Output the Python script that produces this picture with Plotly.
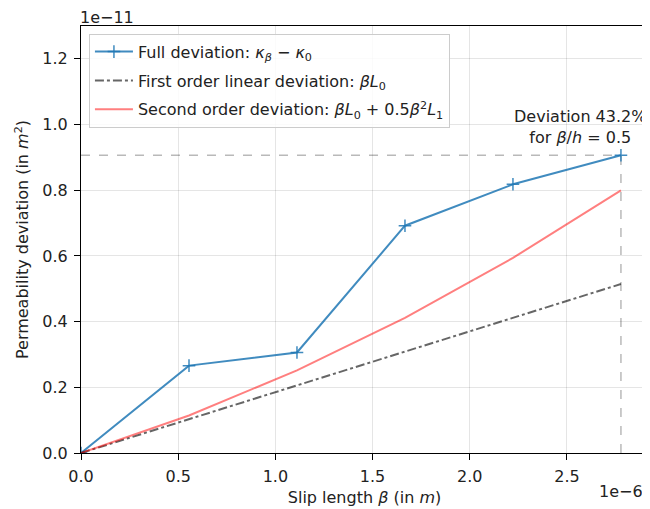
import plotly.graph_objects as go

# Data (real units)
beta = [0.0, 0.5556e-6, 1.1111e-6, 1.6667e-6, 2.2222e-6, 2.7778e-6]
full_dev = [0.0, 0.266e-11, 0.306e-11, 0.692e-11, 0.818e-11, 0.9065e-11]
lin_dev = [0.0, 0.1029e-11, 0.2058e-11, 0.3087e-11, 0.4116e-11, 0.5145e-11]
second_dev = [0.0, 0.1143e-11, 0.2514e-11, 0.4113e-11, 0.5940e-11, 0.7995e-11]

x_tickvals = [0.0, 0.5e-6, 1.0e-6, 1.5e-6, 2.0e-6, 2.5e-6]
x_ticktext = ["0.0", "0.5", "1.0", "1.5", "2.0", "2.5"]
y_tickvals = [0.0, 0.2e-11, 0.4e-11, 0.6e-11, 0.8e-11, 1.0e-11, 1.2e-11]
y_ticktext = ["0.0", "0.2", "0.4", "0.6", "0.8", "1.0", "1.2"]

FONT = "DejaVu Sans"
FS = 16

fig = go.Figure()
fig.add_trace(go.Scatter(
    x=beta, y=full_dev, mode="lines+markers",
    name="Full deviation: <i>κ</i><sub><i>β</i></sub> − <i>κ</i><sub>0</sub>",
    line=dict(color="rgba(31,119,180,0.85)", width=2),
    marker=dict(symbol="cross-thin", size=9,
                line=dict(color="rgba(31,119,180,0.85)", width=1.5)),
    legendgroup="a"))
fig.add_trace(go.Scatter(
    x=beta, y=lin_dev, mode="lines",
    name="First order linear deviation: <i>βL</i><sub>0</sub>",
    line=dict(color="rgba(0,0,0,0.6)", width=2, dash="dashdot"),
    legendgroup="b"))
fig.add_trace(go.Scatter(
    x=beta, y=second_dev, mode="lines",
    name="Second order deviation: <i>βL</i><sub>0</sub> + 0.5<i>β</i><sup>2</sup><i>L</i><sub>1</sub>",
    line=dict(color="rgba(255,0,0,0.5)", width=2),
    legendgroup="c"))

# reference dashed lines at last point
fig.add_shape(type="line", x0=0, x1=beta[-1], y0=full_dev[-1], y1=full_dev[-1],
              line=dict(color="rgba(128,128,128,0.55)", width=1.5, dash="dash"), layer="below")
fig.add_shape(type="line", x0=beta[-1], x1=beta[-1], y0=0, y1=full_dev[-1],
              line=dict(color="rgba(128,128,128,0.55)", width=1.5, dash="dash"), layer="below")

dev_pct = (full_dev[-1] - lin_dev[-1]) / full_dev[-1] * 100
fig.add_annotation(x=2.572e-6, y=0.943e-11, xanchor="center", yanchor="bottom",
                   text=f"Deviation {dev_pct:.1f}%<br>for <i>β</i>/<i>h</i> = 0.5",
                   showarrow=False, font=dict(family=FONT, size=FS, color="#222222"),
                   align="center", xshift=-1, yshift=-6)

# offset texts
fig.add_annotation(xref="paper", yref="paper", x=0, y=1.0, xanchor="left", yanchor="bottom",
                   text="1e−11", showarrow=False, font=dict(family=FONT, size=FS, color="#222222"),
                   yshift=-3, xshift=-3)
fig.add_annotation(xref="paper", yref="paper", x=1.0, y=0, xanchor="right", yanchor="top",
                   text="1e−6", showarrow=False, font=dict(family=FONT, size=FS, color="#222222"),
                   yshift=-27, xshift=-3)

axis_common = dict(showline=True, linecolor="black", linewidth=1, mirror=True,
                   ticks="outside", ticklen=6, tickwidth=1, tickcolor="black",
                   showgrid=True, gridcolor="rgba(0,0,0,0.1)", gridwidth=1,
                   zeroline=False, automargin=False, ticklabelstandoff=3,
                   tickfont=dict(family=FONT, size=FS, color="#222222"))

fig.update_xaxes(range=[0, 2.917e-6], tickvals=x_tickvals, ticktext=x_ticktext,
                 title=dict(text="Slip length <i>β</i> (in <i>m</i>)",
                            font=dict(family=FONT, size=FS, color="#222222"), standoff=6),
                 **axis_common)
fig.update_yaxes(range=[0, 1.3e-11], tickvals=y_tickvals, ticktext=y_ticktext,
                 title=dict(text="Permeability deviation (in <i>m</i><sup>2</sup>)",
                            font=dict(family=FONT, size=FS, color="#222222"), standoff=9),
                 **axis_common)

# the page body adds an 8px margin, so the figure is sized to fit the window
fig.update_layout(
    width=642, height=501,
    margin=dict(l=73, r=2, t=18, b=56),
    paper_bgcolor="white", plot_bgcolor="white",
    font=dict(family=FONT, color="#222222"),
    legend=dict(x=0.014, y=0.982, xanchor="left", yanchor="top",
                bgcolor="rgba(255,255,255,0.85)", bordercolor="#cccccc", borderwidth=1,
                font=dict(family=FONT, size=FS, color="#222222"),
                tracegroupgap=5, traceorder="grouped", itemwidth=38),
    showlegend=True,
)

fig.write_html("out.html")
